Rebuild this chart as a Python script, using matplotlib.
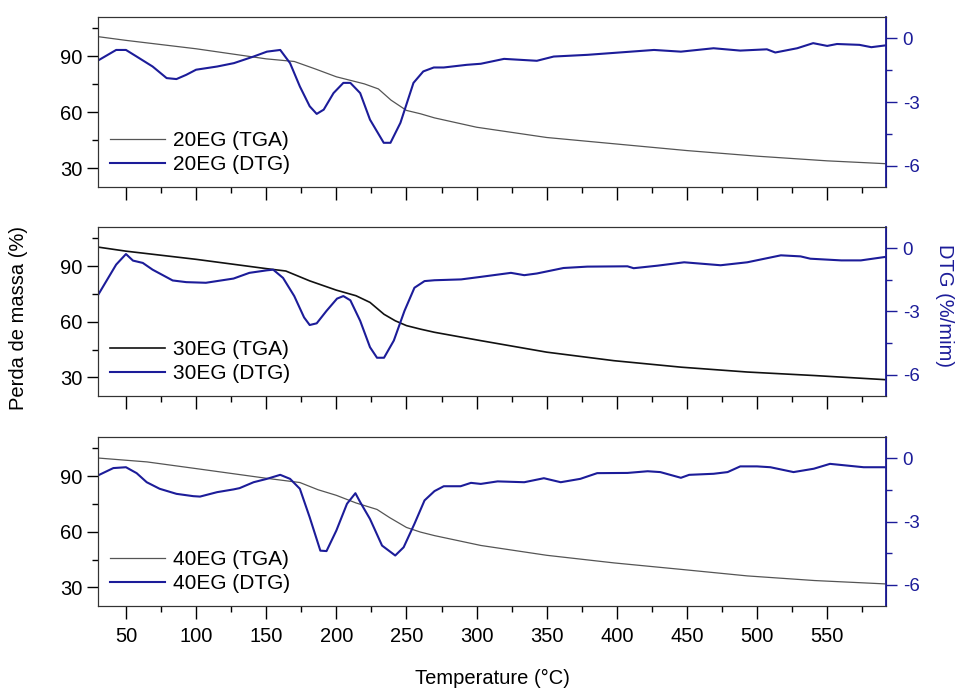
import numpy as np
import matplotlib
matplotlib.use("Agg")
import matplotlib.pyplot as plt
from matplotlib.ticker import MultipleLocator

plt.rcParams['font.family'] = ['Liberation Sans', 'DejaVu Sans']
plt.rcParams['axes.unicode_minus'] = False

NAVY = '#1c1c99'

# TGA curves (mass %, left axis)
t_tga20 = [30, 50, 100, 150, 170, 185, 200, 220, 230, 239, 250, 260, 270, 300, 350, 400, 450, 500, 550, 591]
tga20 = [100.5, 98.5, 94, 88.6, 87.2, 83.2, 79, 75.2, 72.5, 66.5, 61, 59.2, 57, 52, 46.5, 43, 39.5, 36.5, 34, 32.5]

t_tga30 = [30, 50, 100, 150, 164, 181, 200, 214, 224, 234, 242, 250, 260, 270, 303, 350, 398, 446, 493, 541, 591]
tga30 = [100.2, 98, 93.6, 88.6, 87.3, 82, 77, 74, 70.4, 64, 60.5, 57.9, 56, 54.3, 49.8, 43.6, 39, 35.5, 32.9, 31, 28.8]

t_tga40 = [30, 50, 65, 100, 150, 174, 187, 200, 214, 229, 238, 250, 260, 270, 303, 350, 398, 446, 493, 541, 591]
tga40 = [99.7, 98.5, 97.6, 94, 88.8, 86.5, 82.6, 79.6, 75.5, 72, 67.6, 62.3, 59.8, 57.9, 52.6, 47.3, 43.2, 39.7, 36.2, 33.7, 31.9]

# DTG curves (%/min, right axis)
t_dtg20 = [30, 43, 50, 57.6, 69, 79, 86, 93, 100, 115, 127, 141, 150.5, 160, 167, 174, 181, 186,
           191, 198, 205, 210, 217, 224, 233.8, 238.6, 245.7, 255, 262, 269.5, 276.6, 293, 303,
           319.6, 343, 355, 379, 410, 426.5, 445.7, 469, 488, 507, 513, 528.6, 540, 550, 557,
           573, 581.5, 591]
dtg20 = [-1.05, -0.55, -0.55, -0.86, -1.33, -1.875, -1.92, -1.72, -1.48, -1.33, -1.17, -0.86, -0.63,
         -0.55, -1.17, -2.27, -3.2, -3.56, -3.36, -2.58, -2.1, -2.1, -2.58, -3.83, -4.92, -4.92,
         -3.98, -2.1, -1.56, -1.375, -1.375, -1.25, -1.2, -0.97, -1.06, -0.86, -0.78, -0.63,
         -0.55, -0.63, -0.47, -0.58, -0.52, -0.67, -0.47, -0.23, -0.36, -0.27, -0.31, -0.42, -0.34]

t_dtg30 = [30, 36, 43, 50, 55, 62, 69, 83.3, 93, 107, 126.7, 138, 150.5, 155, 162, 170, 177, 181,
           186, 193, 200.5, 205, 210, 217, 224, 229, 234, 241, 248.6, 255.7, 262.9, 270, 289,
           303, 324.5, 334, 343, 362, 379, 407.6, 412, 429, 448, 474, 493, 517, 531, 538, 560,
           574, 591]
dtg30 = [-2.23, -1.56, -0.78, -0.28, -0.59, -0.7, -1.02, -1.53, -1.61, -1.64, -1.44, -1.17, -1.05,
         -1.02, -1.41, -2.27, -3.28, -3.64, -3.56, -2.97, -2.39, -2.27, -2.47, -3.44, -4.69, -5.19,
         -5.19, -4.375, -2.97, -1.875, -1.56, -1.52, -1.48, -1.36, -1.17, -1.28, -1.2, -0.94,
         -0.875, -0.86, -0.95, -0.83, -0.67, -0.81, -0.67, -0.34, -0.39, -0.5, -0.58, -0.58, -0.42]

t_dtg40 = [30, 41, 50, 57.6, 64.8, 74, 86, 98, 102.8, 115, 126.7, 131, 141, 150.5, 160, 167, 174,
           181, 188.6, 193, 200, 207.6, 213.6, 217, 224, 232.6, 242, 248, 255.7, 262.9, 270,
           276.6, 288.6, 296, 303, 315, 334, 348, 360, 374, 386, 407.6, 422, 431, 445.7, 451.6,
           469, 479, 488, 500, 509.5, 526, 540.5, 552, 564, 576, 591]
dtg40 = [-0.82, -0.47, -0.43, -0.71, -1.14, -1.45, -1.69, -1.8, -1.82, -1.61, -1.48, -1.42, -1.14,
         -0.98, -0.79, -0.98, -1.45, -2.8, -4.38, -4.4, -3.43, -2.16, -1.66, -2.08, -2.88, -4.14,
         -4.61, -4.22, -3.11, -2.0, -1.56, -1.33, -1.33, -1.17, -1.22, -1.1, -1.14, -0.95, -1.14,
         -0.98, -0.71, -0.7, -0.62, -0.66, -0.93, -0.79, -0.74, -0.66, -0.39, -0.39, -0.43, -0.66,
         -0.5, -0.27, -0.35, -0.43, -0.43]

panels = [
    ("20EG", t_tga20, tga20, t_dtg20, dtg20, '#555555', 0.9),
    ("30EG", t_tga30, tga30, t_dtg30, dtg30, '#111111', 1.2),
    ("40EG", t_tga40, tga40, t_dtg40, dtg40, '#555555', 0.9),
]

fig = plt.figure(figsize=(9.6, 6.89), dpi=100)

# axes boxes in figure fractions (left, bottom, width, height)
boxes = [(0.102, 0.7286, 0.821, 0.2467),
         (0.102, 0.4253, 0.821, 0.2452),
         (0.102, 0.1205, 0.821, 0.2452)]

for i, (name, tt, tga, td, dtg, tcol, tlw) in enumerate(panels):
    ax = fig.add_axes(boxes[i])
    ax2 = ax.twinx()

    l1, = ax.plot(tt, tga, color=tcol, lw=tlw, label=name + " (TGA)")
    l2, = ax2.plot(td, dtg, color=NAVY, lw=1.5, label=name + " (DTG)")

    ax.set_xlim(30, 592)
    ax.set_ylim(20, 111)
    ax2.set_ylim(-7, 1)

    ax.xaxis.set_minor_locator(MultipleLocator(25))
    ax.set_xticks([50, 100, 150, 200, 250, 300, 350, 400, 450, 500, 550])
    ax.yaxis.set_major_locator(MultipleLocator(30))
    ax.yaxis.set_minor_locator(MultipleLocator(15))
    ax2.yaxis.set_major_locator(MultipleLocator(3))
    ax2.yaxis.set_minor_locator(MultipleLocator(1.5))

    ax.tick_params(axis='both', which='major', direction='out', length=8, width=1,
                   labelsize=14.5, pad=3)
    ax.tick_params(axis='both', which='minor', direction='out', length=4, width=1)
    ax.tick_params(axis='x', which='major', length=9, pad=6)
    ax2.tick_params(axis='y', which='major', direction='out', length=8, width=1,
                    colors=NAVY, labelsize=13.5, pad=4)
    ax2.tick_params(axis='y', which='minor', direction='out', length=4, width=1, colors=NAVY)

    if i < 2:
        ax.tick_params(axis='x', labelbottom=False)

    for s in ['left', 'top', 'bottom']:
        ax.spines[s].set_color('#333333')
        ax2.spines[s].set_color('#333333')
    ax2.spines['right'].set_color(NAVY)
    ax2.spines['right'].set_linewidth(1.3)

    ax.legend(handles=[l1, l2], loc='lower left', frameon=False, fontsize=15,
              handlelength=2.6, handletextpad=0.4, labelspacing=0.25,
              borderaxespad=0.2, bbox_to_anchor=(0.0, 0.0))

fig.text(0.513, 1 - 678 / 689, "Temperature (°C)", ha='center', va='center', fontsize=14.5)
fig.text(0.019, 1 - 318 / 689, "Perda de massa (%)", ha='center', va='center',
         rotation=90, fontsize=14.5)
fig.text(0.984, 1 - 306 / 689, "DTG (%/mim)", ha='center', va='center',
         rotation=270, fontsize=14.5, color=NAVY)

fig.savefig("out.png", dpi=100)
